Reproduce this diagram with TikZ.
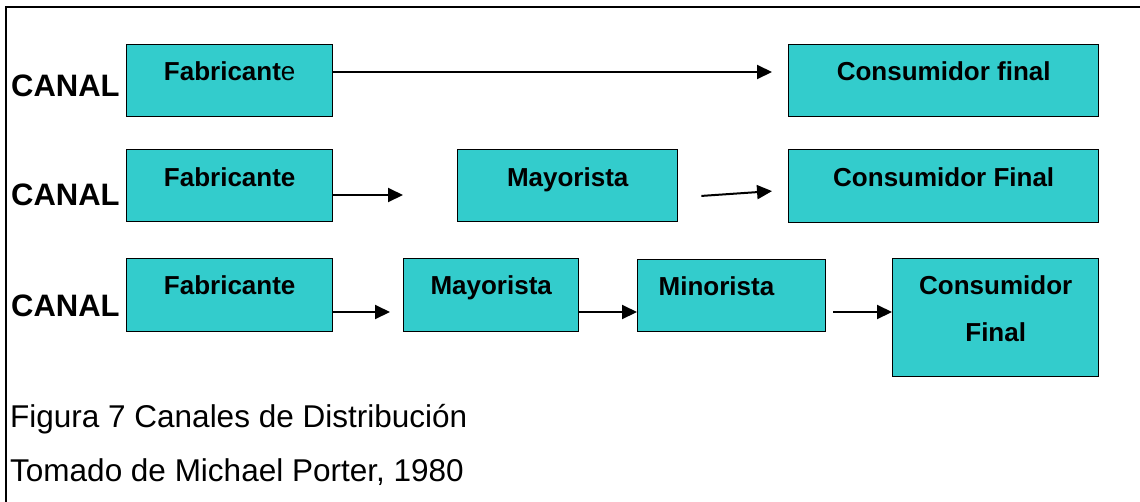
\documentclass[tikz,border=0pt]{standalone}
\usepackage{fontspec}
\setmainfont{Liberation Sans}
\usetikzlibrary{arrows.meta}
\definecolor{boxfill}{HTML}{33CCCC}
\tikzset{
  stage/.style={draw=black, fill=boxfill, line width=1.4pt, rectangle,
    inner sep=0pt, anchor=north west,
    font=\fontsize{26}{30}\selectfont\bfseries},
  canal/.style={anchor=base west, inner sep=0pt,
    font=\fontsize{31}{36}\selectfont\bfseries},
  flow/.style={line width=2pt, -{Triangle[length=15pt,width=14pt]}},
  caption/.style={anchor=base west, inner sep=0pt,
    font=\fontsize{31.5}{36}\selectfont},
  frame/.style={line width=2.5pt}
}
\begin{document}
\begin{tikzpicture}[x=1pt,y=-1pt]
\useasboundingbox (0,0) rectangle (1140,501);
\draw[frame] (6,503) -- (6,7) -- (1142,7);

% first channel: maker straight to the final consumer
\node[canal] (k1) at (11,96) {CANAL};
\node[stage, minimum width=206pt, text height=36pt, text depth=36pt] (f1) at (126,44) {Fabricant{\mdseries e}};
\node[stage, minimum width=310pt, text height=36pt, text depth=36pt] (c1) at (788,44) {Consumidor final};
\draw[flow, shorten >=16pt] (f1.east |- 0,72) -- (c1.west |- 0,72);

% second channel: through the wholesaler
\node[canal] (k2) at (11,205) {CANAL};
\node[stage, minimum width=206pt, text height=37pt, text depth=35pt] (f2) at (126,149) {Fabricante};
\node[stage, minimum width=220pt, text height=37pt, text depth=35pt] (m2) at (457,149) {Mayorista};
\node[stage, minimum width=310pt, text height=37pt, text depth=36pt] (c2) at (788,149) {Consumidor Final};
\draw[flow, shorten >=54pt] (f2.east |- 0,195) -- (m2.west |- 0,195);
\draw[flow, shorten <=23pt, shorten >=16pt] (m2.east |- 0,197.5) -- (c2.west |- 0,190);

% third channel: wholesaler and retailer
\node[canal] (k3) at (11,316) {CANAL};
\node[stage, minimum width=206pt, text height=36pt, text depth=37pt] (f3) at (126,258) {Fabricante};
\node[stage, minimum width=175pt, text height=36pt, text depth=37pt] (m3) at (403,258) {Mayorista};
\node[stage, text width=146pt, inner xsep=21pt, align=left, text height=36pt, text depth=36pt] (n3) at (637,259) {Minorista};
\node[stage, text width=206pt, align=center, text height=36pt, text depth=82pt,
  font=\fontsize{26}{47}\selectfont\bfseries] (c3) at (892,258) {Consumidor\\Final};
\draw[flow, shorten >=13pt] (f3.east |- 0,312) -- (m3.west |- 0,312);
\draw[flow] (m3.east |- 0,312) -- (n3.west |- 0,312);
\draw[flow, shorten <=7pt] (n3.east |- 0,312) -- (c3.west |- 0,312);

% caption
\node[caption] (cap1) at (10,427) {Figura 7 Canales de Distribución};
\node[caption] (cap2) at (10,481) {Tomado de Michael Porter, 1980};
\end{tikzpicture}
\end{document}
